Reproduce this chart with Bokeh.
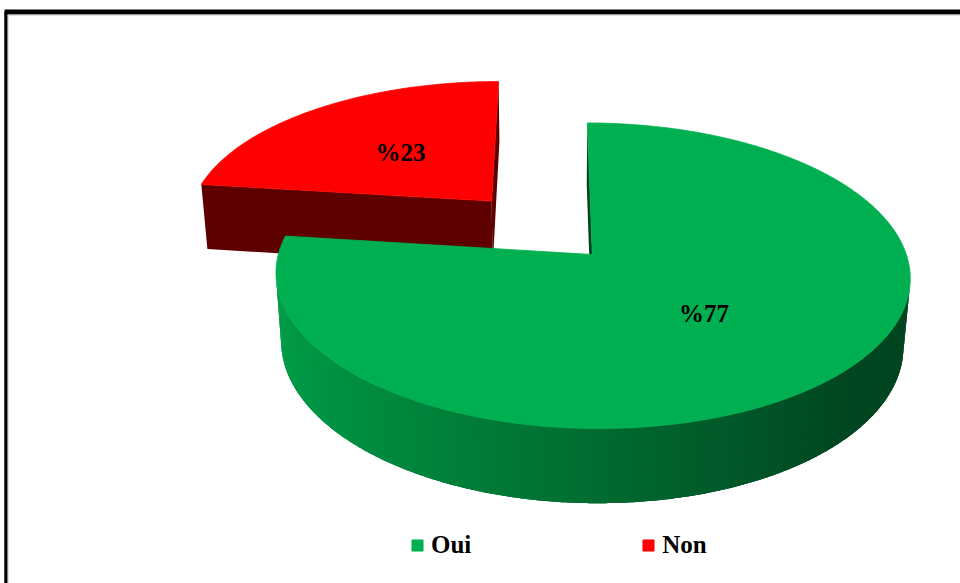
import numpy as np
from bokeh.plotting import figure
from bokeh.models import Range1d, Legend, LegendItem, ColumnDataSource
from bokeh.core.properties import value
from bokeh.embed import file_html
from bokeh.resources import INLINE

# ---------------- data ----------------
categories = ["Oui", "Non"]
values = [77, 23]
top_colors = ["#00B050", "#FF0000"]
cut_colors = ["#00421D", "#5E0000"]
explode = [0.0, 0.5]
labels = ["%" + str(v) for v in values]

# ---------------- view (3D projection) ----------------
W, H = 960, 583
S = 314.0          # pixel scale of unit radius
SX0, SY0 = 551.0, 254.0
ALPHA = np.radians(28.5)
DIST = 6.32
DEPTH = 0.25
XC = -0.13
CA, SA = np.cos(ALPHA), np.sin(ALPHA)
CAM = np.array([XC, DIST * SA, DIST * CA])


def proj(X, Y, Z):
    X = np.asarray(X, float); Y = np.asarray(Y, float); Z = np.asarray(Z, float)
    ys = Y * CA - Z * SA
    zc = Y * SA + Z * CA
    f = DIST / (DIST - zc)
    return SX0 + S * (X - XC) * f, SY0 - S * ys * f


def visible(normal, point):
    return float(np.dot(normal, CAM - np.asarray(point))) > 0


def hex_rgb(h):
    h = h.lstrip("#")
    return [int(h[i:i + 2], 16) for i in (0, 2, 4)]


def shade(hexcol, fac):
    r, g, b = hex_rgb(hexcol)
    return "#%02x%02x%02x" % tuple(int(max(0, min(255, round(c * fac)))) for c in (r, g, b))


def side_factor(theta_deg):
    g = 107 + 50 * np.cos(np.radians(theta_deg - 270))
    return max(g, 70) / 176.0


p = figure(width=W, height=H, output_backend="svg", toolbar_location=None,
           x_range=Range1d(0, W), y_range=Range1d(H, 0), min_border=0)
p.axis.visible = False
p.grid.visible = False
p.outline_line_color = None
p.background_fill_color = "white"
p.border_fill_color = "white"

total = float(sum(values))
starts = np.cumsum([0] + values[:-1]) / total * 360.0
ends = np.cumsum(values) / total * 360.0

# draw slices whose middle points away from the viewer first
order = sorted(range(len(values)), key=lambda i: -np.cos(np.radians((starts[i] + ends[i]) / 2)))

top_renderers = {}
label_x, label_y = [], []
for i in range(len(values)):
    ta, tb = starts[i], ends[i]
    mid = np.radians((ta + tb) / 2)
    ex, ez = explode[i] * np.sin(mid), -explode[i] * np.cos(mid)
    lx, ly = proj(ex + 0.5 * np.sin(mid), 0.0, ez - 0.5 * np.cos(mid))
    label_x.append(float(lx)); label_y.append(float(ly))

for i in order:
    ta, tb = starts[i], ends[i]
    mid = np.radians((ta + tb) / 2)
    ex, ez = explode[i] * np.sin(mid), -explode[i] * np.cos(mid)
    n = max(2, int(np.ceil((tb - ta) * 2)) + 1)
    th = np.radians(np.linspace(ta, tb, n))
    ax_, az_ = ex + np.sin(th), ez - np.cos(th)

    xs, ys, fc = [], [], []
    # cut faces
    for t, nrm in ((np.radians(ta), (-np.cos(np.radians(ta)), 0, -np.sin(np.radians(ta)))),
                   (np.radians(tb), (np.cos(np.radians(tb)), 0, np.sin(np.radians(tb))))):
        ox, oz = ex + np.sin(t), ez - np.cos(t)
        if visible(np.array(nrm), ((ex + ox) / 2, -DEPTH / 2, (ez + oz) / 2)):
            qx, qy = proj([ex, ox, ox, ex], [0, 0, -DEPTH, -DEPTH], [ez, oz, oz, ez])
            xs.append(list(qx)); ys.append(list(qy)); fc.append(cut_colors[i])
    # outer side (segments overlap the next one to hide seams)
    for k in range(n - 1):
        k2 = min(k + 3, n - 1)
        tm = (th[k] + th[k + 1]) / 2
        nrm = np.array([np.sin(tm), 0, -np.cos(tm)])
        pt = (ex + np.sin(tm), -DEPTH / 2, ez - np.cos(tm))
        if visible(nrm, pt):
            idx = list(range(k, k2 + 1))
            px = [ax_[j] for j in idx] + [ax_[j] for j in idx[::-1]]
            py = [0.0] * len(idx) + [-DEPTH] * len(idx)
            pz = [az_[j] for j in idx] + [az_[j] for j in idx[::-1]]
            qx, qy = proj(px, py, pz)
            xs.append(list(qx)); ys.append(list(qy))
            fc.append(shade(top_colors[i], side_factor(np.degrees(tm))))
    if xs:
        src = ColumnDataSource(dict(xs=xs, ys=ys, c=fc))
        p.patches("xs", "ys", source=src, fill_color="c", line_color=None)
    # top face
    tx, ty = proj(np.concatenate([[ex], ax_]), np.zeros(n + 1), np.concatenate([[ez], az_]))
    top_renderers[i] = p.patch(list(tx), list(ty), fill_color=top_colors[i],
                               line_color=top_colors[i], line_width=0.8)

p.text(x=label_x, y=label_y, text=labels, text_font=value("Liberation Serif"),
       text_font_style="bold", text_font_size="25px", text_align="center",
       text_baseline="middle", text_color="black")

# frame border
p.multi_line(xs=[[5.5, 5.5], [4, 1000]], ys=[[700, 11.5], [11.5, 11.5]],
             line_color="black", line_width=[3.5, 5])
p.multi_line(xs=[[7.5, 7.5], [7, 1000]], ys=[[700, 14.5], [14.5, 14.5]],
             line_color="#bdbdbd", line_width=1)

legend = Legend(items=[LegendItem(label=categories[i], renderers=[top_renderers[i]])
                       for i in range(len(categories))],
                orientation="horizontal", location=(410, 24), padding=0, margin=0,
                spacing=170, glyph_width=14, glyph_height=14, label_standoff=7,
                label_text_font="Liberation Serif", label_text_font_style="bold",
                label_text_font_size="25px", label_text_color="black",
                background_fill_alpha=0, border_line_color=None)
p.add_layout(legend)

open("out.html", "w").write(file_html(p, INLINE))
